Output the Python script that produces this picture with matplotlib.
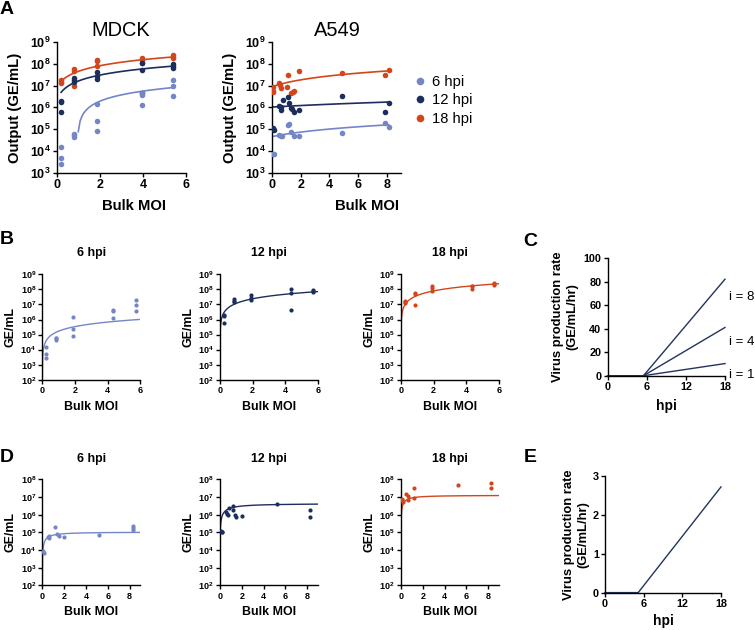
import numpy as np
import matplotlib
matplotlib.use("Agg")
import matplotlib.pyplot as plt
from matplotlib.ticker import LogLocator, NullLocator, LogFormatterMathtext
from matplotlib.lines import Line2D

plt.rcParams['font.family'] = ['Liberation Sans', 'DejaVu Sans']

# colours
C6 = '#7486c6'
C12 = '#1c2e5b'
C18 = '#d3461b'
CLINE = '#22335f'

# ---- panel A, MDCK (three replicates per bulk MOI) ----
mdck_moi = [0.2, 0.8, 1.85, 3.95, 5.4]
mdck_6 = [[1.6e4, 5e3, 2.6e3], [6e4, 5.5e4, 4.3e4], [1.4e6, 2.4e5, 8e4],
          [4.6e6, 3.7e6, 1.3e6], [1.9e7, 9.5e6, 3.5e6]]
mdck_12 = [[2e6, 1.7e6, 6e5], [2.2e7, 1.8e7, 1.5e7], [4.5e7, 2.7e7, 2e7],
           [1.1e8, 5.5e7, 4.5e6], [9.5e7, 8e7, 6.5e7]]
mdck_18 = [[1.8e7, 1.5e7, 1.3e7], [6e7, 5e7, 9.5e6], [1.6e8, 1.3e8, 7.7e7],
           [1.8e8, 1.6e8, 1.1e8], [2.6e8, 2.2e8, 1.9e8]]

# ---- panel A, A549 ----
a549_6_x = [0.1, 0.15, 0.5, 0.6, 0.7, 1.1, 1.2, 1.3, 1.55, 1.9, 4.9, 7.85, 8.15]
a549_6_y = [7.5e3, 7e3, 5.3e4, 4.8e4, 5e4, 1.6e5, 1.8e5, 7.5e4, 5e4, 5e4, 6.5e4, 1.9e5, 1.3e5]
a549_12_x = [0.05, 0.1, 0.15, 0.5, 0.6, 0.65, 0.75, 1.1, 1.2, 1.3, 1.4, 1.55, 1.9, 4.9, 7.85, 8.15]
a549_12_y = [1.1e5, 1e5, 9e4, 1.2e6, 1e6, 8e5, 2.2e6, 3e6, 1.6e6, 9e5, 8.5e5, 6.5e5, 8e5,
             3.5e6, 6e5, 1.6e6]
a549_18_x = [0.05, 0.1, 0.1, 0.5, 0.55, 0.6, 1.05, 1.15, 1.3, 1.45, 1.55, 1.9, 4.9, 7.85, 8.15]
a549_18_y = [8.5e6, 5e6, 6e6, 1.4e7, 1.1e7, 8e6, 9e6, 3e7, 4.5e6, 5e6, 5.5e6, 4.6e7, 4e7,
             3.2e7, 5.4e7]

# fitted lines in panel A: (slope, intercept)
fit_mdck = {6: (1.86e6, -1.77e6), 12: (1.44e7, 2.1e6), 18: (3.73e7, 8.5e6)}
fit_a549 = {6: (1.4e4, 4.6e4), 12: (9e4, 1.05e6), 18: (4.8e6, 9e6)}

# ---- panel B (MDCK data, slightly different MOI estimates) ----
b_moi = [0.25, 0.85, 1.9, 4.35, 5.7]
b_k = {6: 1.7e5, 12: 1.2e7, 18: 4e7}          # output = k * MOI

# ---- panel D (A549) ----
d6_x = [0.1, 0.15, 0.55, 0.65, 0.6, 1.15, 1.35, 1.55, 2.0, 5.2, 8.3, 8.3, 8.3]
d6_y = [9e3, 7e3, 5.5e4, 6e4, 4.8e4, 1.9e5, 8e4, 6e4, 5.8e4, 7.5e4, 2.3e5, 1.8e5, 1.4e5]
d12_x = [0.12, 0.2, 0.15, 0.55, 0.65, 0.75, 0.8, 1.15, 1.2, 1.35, 1.5, 2.05, 5.25, 8.3, 8.3]
d12_y = [1.2e5, 1.05e5, 1e5, 1.4e6, 1.1e6, 9e5, 2.3e6, 3.1e6, 1.8e6, 9e5, 7.3e5, 8.5e5,
         3.8e6, 1.8e6, 7.3e5]
d18_x = [0.12, 0.15, 0.13, 0.5, 0.6, 0.6, 1.2, 1.2, 5.2, 8.25, 8.25]
d18_y = [8e6, 5.2e6, 6.5e6, 1.4e7, 1.1e7, 6.8e6, 3.1e7, 9.2e6, 4.6e7, 5.9e7, 3.4e7]
d_fit = {6: (1.05e5, 0.5), 12: (4.3e6, 0.8), 18: (1.26e7, 0.42)}  # Vmax, K

# ---- panels C and E ----
c_hpi = [0, 5.5, 18]
c_rates = {8: [0, 0, 82], 4: [0, 0, 41], 1: [0, 0, 10.3]}
c_label_y = {8: 67, 4: 28.6, 1: 0.5}
e_hpi = [0, 5.15, 18]
e_rate = [0, 0, 2.72]

W, H = 755, 630


def box(l, t, r, b):
    return [l / W, 1 - b / H, (r - l) / W, (b - t) / H]


def fpos(x, y):
    return x / W, 1 - y / H


def style(ax, tsize):
    for s in ['top', 'right']:
        ax.spines[s].set_visible(False)
    for s in ['left', 'bottom']:
        ax.spines[s].set_linewidth(1.0)
    ax.tick_params(direction='out', length=3, width=1.0, pad=1.5, labelsize=tsize)
    for lab in ax.get_xticklabels() + ax.get_yticklabels():
        lab.set_fontweight('bold')


def logaxis(ax, lo, hi):
    ax.set_yscale('log')
    ax.set_ylim(10.0 ** lo, 10.0 ** hi)
    ax.yaxis.set_major_locator(LogLocator(base=10, numticks=20))
    ax.yaxis.set_minor_locator(NullLocator())
    ax.yaxis.set_major_formatter(LogFormatterMathtext())


def reps(moi, vals):
    xs, ys = [], []
    for m, v in zip(moi, vals):
        xs += [m] * len(v)
        ys += v
    return xs, ys


fig = plt.figure(figsize=(7.55, 6.3), dpi=100)

# ================= A =================
groups = [(6, C6), (12, C12), (18, C18)]
axm = fig.add_axes(box(56.8, 42.2, 186.3, 172.8))
mdck_data = {6: mdck_6, 12: mdck_12, 18: mdck_18}
for hpi, col in [(18, C18), (12, C12), (6, C6)]:
    xs, ys = reps(mdck_moi, mdck_data[hpi])
    axm.scatter(xs, ys, s=16, color=col, lw=0, zorder=3)
    m, c = fit_mdck[hpi]
    xx = np.linspace(mdck_moi[0], mdck_moi[-1], 60)
    yy = m * xx + c
    yy = np.where(yy > 0, yy, np.nan)
    axm.plot(xx, yy, color=col, lw=1.2, zorder=2)
axm.set_xlim(0, 6)
axm.set_xticks([0, 2, 4, 6])
logaxis(axm, 3, 9)
style(axm, 9)
axm.set_ylabel('Output (GE/mL)', fontsize=10.7, fontweight='bold')
axm.yaxis.set_label_coords(-0.27, 0.5)
axm.set_xlabel('Bulk MOI', fontsize=10.7, fontweight='bold')
axm.xaxis.set_label_coords(0.595, -0.2)

axa = fig.add_axes(box(272, 42.2, 401, 172.8))
a549_data = {6: (a549_6_x, a549_6_y), 12: (a549_12_x, a549_12_y), 18: (a549_18_x, a549_18_y)}
for hpi, col in [(18, C18), (12, C12), (6, C6)]:
    xs, ys = a549_data[hpi]
    axa.scatter(xs, ys, s=16, color=col, lw=0, zorder=3)
    m, c = fit_a549[hpi]
    xx = np.linspace(0.05, 8.15, 60)
    axa.plot(xx, m * xx + c, color=col, lw=1.2, zorder=2)
axa.set_xlim(0, 9)
axa.set_xticks([0, 2, 4, 6, 8])
logaxis(axa, 3, 9)
style(axa, 9)
axa.set_ylabel('Output (GE/mL)', fontsize=10.7, fontweight='bold')
axa.yaxis.set_label_coords(-0.27, 0.5)
axa.set_xlabel('Bulk MOI', fontsize=10.7, fontweight='bold')
axa.xaxis.set_label_coords(0.736, -0.2)

fig.text(*fpos(121, 31), 'MDCK', fontsize=14.4, ha='center', va='center')
fig.text(*fpos(337, 31), 'A549', fontsize=14.4, ha='center', va='center')

handles = [Line2D([], [], ls='none', marker='o', ms=5.5, color=col, mec='none')
           for _, col in groups]
fig.legend(handles, ['6 hpi', '12 hpi', '18 hpi'], loc='upper left',
           bbox_to_anchor=fpos(416, 75), frameon=False, fontsize=10.6,
           handlelength=0.6, handletextpad=0.5, labelspacing=0.3,
           borderpad=0, borderaxespad=0)

# ================= B =================
b_lefts = [42.4, 220, 401]
b_cols = [(6, C6), (12, C12), (18, C18)]
for left, (hpi, col) in zip(b_lefts, b_cols):
    ax = fig.add_axes(box(left, 274.4, left + 98, 379.7))
    xs, ys = reps(b_moi, mdck_data[hpi])
    ax.scatter(xs, ys, s=9, color=col, lw=0, zorder=3)
    xx = np.concatenate([np.geomspace(1e-3, 0.1, 40), np.linspace(0.1, 6, 100)])
    ax.plot(xx, b_k[hpi] * xx, color=col, lw=1.0, zorder=2)
    ax.set_xlim(0, 6)
    ax.set_xticks([0, 2, 4, 6])
    logaxis(ax, 2, 9)
    style(ax, 6.5)
    ax.set_ylabel('GE/mL', fontsize=8.9, fontweight='bold')
    ax.yaxis.set_label_coords(-0.261, 0.5)
    ax.set_xlabel('Bulk MOI', fontsize=8.9, fontweight='bold')
    ax.xaxis.set_label_coords(0.5, -0.2)
    fig.text(*fpos(left + 49, 253), f'{hpi} hpi', fontsize=8.9, fontweight='bold',
             ha='center', va='center')

# ================= C =================
axc = fig.add_axes(box(607.6, 258, 725, 375.7))
for i, r in c_rates.items():
    axc.plot(c_hpi, r, color=CLINE, lw=1.0, clip_on=False)
    axc.text(18.6, c_label_y[i], f'i = {i}', fontsize=9.5, ha='left', va='center')
axc.set_xlim(0, 18)
axc.set_ylim(0, 100)
axc.set_xticks([0, 6, 12, 18])
axc.set_yticks([0, 20, 40, 60, 80, 100])
style(axc, 7.8)
axc.set_ylabel('Virus production rate\n(GE/mL/hr)', fontsize=9.4, fontweight='bold',
               linespacing=1.2)
axc.yaxis.set_label_coords(-0.252, 0.5)
axc.set_xlabel('hpi', fontsize=9.9, fontweight='bold')
axc.xaxis.set_label_coords(0.5, -0.198)

# ================= D =================
d_data = {6: (d6_x, d6_y), 12: (d12_x, d12_y), 18: (d18_x, d18_y)}
for left, (hpi, col) in zip(b_lefts, b_cols):
    ax = fig.add_axes(box(left, 479.3, left + 98, 585.4))
    xs, ys = d_data[hpi]
    ax.scatter(xs, ys, s=9, color=col, lw=0, zorder=3)
    vmax, k = d_fit[hpi]
    xx = np.concatenate([np.geomspace(1e-3, 0.1, 40), np.linspace(0.1, 9, 120)])
    ax.plot(xx, vmax * xx / (k + xx), color=col, lw=1.0, zorder=2)
    ax.set_xlim(0, 9)
    ax.set_xticks([0, 2, 4, 6, 8])
    logaxis(ax, 2, 8)
    style(ax, 6.5)
    ax.set_ylabel('GE/mL', fontsize=8.9, fontweight='bold')
    ax.yaxis.set_label_coords(-0.261, 0.5)
    ax.set_xlabel('Bulk MOI', fontsize=8.9, fontweight='bold')
    ax.xaxis.set_label_coords(0.5, -0.191)
    fig.text(*fpos(left + 49, 458.8), f'{hpi} hpi', fontsize=8.9, fontweight='bold',
             ha='center', va='center')

# ================= E =================
axe = fig.add_axes(box(605, 476, 721, 592.6))
axe.plot(e_hpi, e_rate, color=CLINE, lw=1.0, clip_on=False)
axe.set_xlim(0, 18)
axe.set_ylim(0, 3)
axe.set_xticks([0, 6, 12, 18])
axe.set_yticks([0, 1, 2, 3])
style(axe, 7.8)
axe.set_ylabel('Virus production rate\n(GE/mL/hr)', fontsize=9.4, fontweight='bold',
               linespacing=1.2)
axe.yaxis.set_label_coords(-0.138, 0.5)
axe.set_xlabel('hpi', fontsize=9.9, fontweight='bold')
axe.xaxis.set_label_coords(0.5, -0.185)

# panel letters
for letter, (x, y) in {'A': (7, 9), 'B': (7, 240), 'C': (530, 241),
                       'D': (7, 457), 'E': (530, 457)}.items():
    fig.text(*fpos(x, y), letter, fontsize=14, fontweight='bold', ha='center', va='center')

fig.savefig('out.png', dpi=100)
